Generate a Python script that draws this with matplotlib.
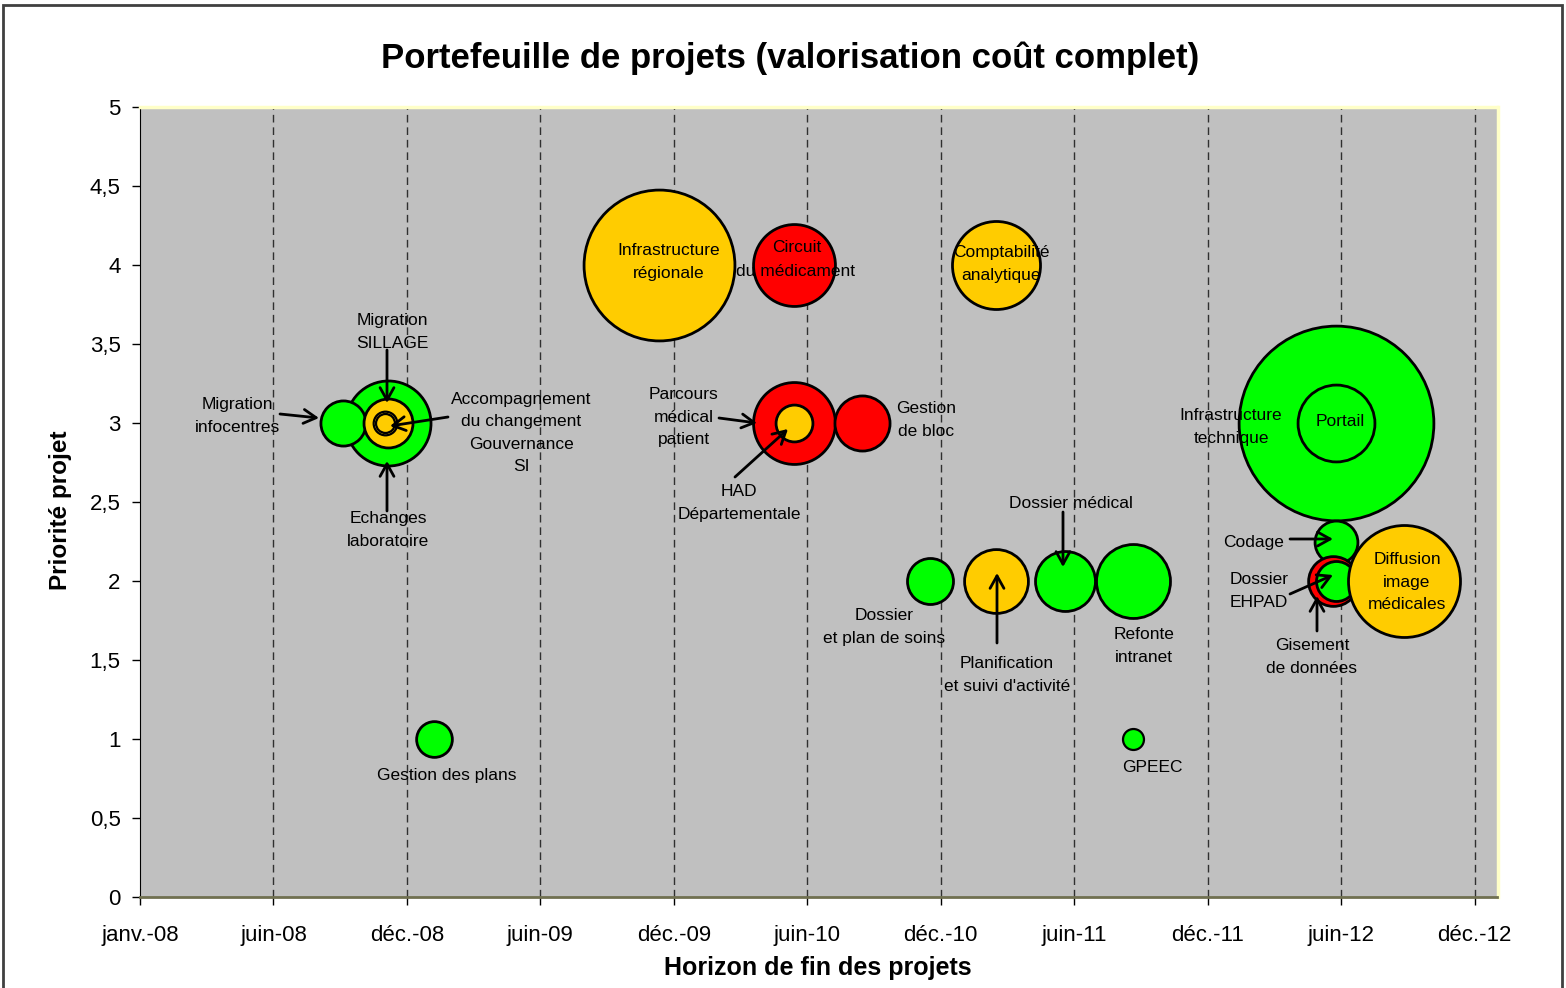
import matplotlib
matplotlib.use("Agg")
import matplotlib.pyplot as plt
import matplotlib.dates as mdates
from matplotlib.patches import Rectangle
from datetime import date, timedelta

plt.rcParams['font.family'] = ['Liberation Sans', 'DejaVu Sans']

# projects, in drawing order
projets = ["Infrastructure technique", "Portail", "Codage", "Dossier EHPAD",
           "Gisement de données", "Diffusion image médicales",
           "Infrastructure régionale", "Circuit du médicament",
           "Comptabilité analytique", "Echanges laboratoire",
           "Migration infocentres", "Migration SILLAGE",
           "Accompagnement du changement", "Gouvernance SI",
           "Parcours médical patient", "HAD Départementale", "Gestion de bloc",
           "Dossier et plan de soins", "Planification et suivi d'activité",
           "Dossier médical", "Refonte intranet", "Gestion des plans", "GPEEC"]
fin = ["2012-06-01", "2012-06-01", "2012-06-01", "2012-05-28",
       "2012-06-01", "2012-09-01",
       "2009-12-01", "2010-06-01",
       "2011-03-01", "2008-12-01",
       "2008-10-01", "2008-12-01",
       "2008-11-27", "2008-11-27",
       "2010-06-01", "2010-06-01", "2010-09-01",
       "2010-12-01", "2011-03-01",
       "2011-06-01", "2011-09-01", "2009-02-01", "2011-09-01"]
priorite = [3, 3, 2.25, 2, 2, 2, 4, 4, 4, 3, 3, 3, 3, 3, 3, 3, 3, 2, 2, 2, 2, 1, 1]
cout = [950, 148, 46, 62, 40, 314, 570, 168, 194, 181, 51, 60, 14, 9,
        168, 34, 76, 53, 102, 90, 137, 32, 11]
statut = ["vert", "vert", "vert", "rouge", "vert", "orange",
          "orange", "rouge", "orange", "vert", "vert", "orange",
          "orange", "orange", "rouge", "orange", "rouge",
          "vert", "orange", "vert", "vert", "vert", "vert"]

couleurs = {"vert": "#00FF00", "orange": "#FFCC00", "rouge": "#FF0000"}
mois = ["janv.", "févr.", "mars", "avr.", "mai", "juin", "juil.", "août",
        "sept.", "oct.", "nov.", "déc."]

W, H = 1566, 988
fig = plt.figure(figsize=(W / 100, H / 100), dpi=100)
ax = fig.add_axes([140 / W, 1 - 897 / H, 1357.5 / W, 790 / H])
ax.set_facecolor("#C0C0C0")

debut = date(2008, 1, 1)
x = [mdates.date2num(date.fromisoformat(d)) for d in fin]
for xi, yi, c, s in zip(x, priorite, cout, statut):
    ax.scatter(xi, yi, s=c * 20.7, color=couleurs[s], edgecolor="black",
               linewidth=2 if c > 20 else 1.6, zorder=3)

# axes
ax.set_xlim(mdates.date2num(debut), mdates.date2num(debut + timedelta(days=1831)))
ax.set_ylim(0, 5)
ticks = [debut + timedelta(days=180 * k) for k in range(11)]
ax.set_xticks([mdates.date2num(t) for t in ticks])
ax.set_xticklabels([mois[t.month - 1] + "-" + t.strftime("%y") for t in ticks])
yt = [k * 0.5 for k in range(11)]
ax.set_yticks(yt)
ax.set_yticklabels([("%g" % v).replace(".", ",") for v in yt])
ax.tick_params(labelsize=16, length=6, width=1, colors="black")
ax.tick_params(axis="x", pad=14)
ax.tick_params(axis="y", pad=8)
for t in ticks[1:]:
    ax.axvline(mdates.date2num(t), color="#303030", lw=1, dashes=(5.5, 3.5), zorder=1)

ax.spines["left"].set_color("black")
ax.spines["bottom"].set_color("#707050")
ax.spines["bottom"].set_linewidth(2)
ax.spines["top"].set_color("#FFFFC8")
ax.spines["right"].set_color("#FFFFC8")
ax.spines["top"].set_linewidth(2.5)
ax.spines["right"].set_linewidth(2.5)

ax.set_xlabel("Horizon de fin des projets", fontsize=18, fontweight="bold")
ax.set_ylabel("Priorité projet", fontsize=17.5, fontweight="bold")
ax.xaxis.set_label_coords((818 - 140) / 1357.5, -(956 - 897) / 790)
ax.yaxis.set_label_coords(-(140 - 72) / 1357.5, (897 - 510) / 790)
fig.text(790 / W, 1 - 58 / H, "Portefeuille de projets (valorisation coût complet)",
         fontsize=25, fontweight="bold", ha="center", va="center")

# bubble labels (pixel positions)
etiquettes = [
    ("Migration\ninfocentres", 237, 416),
    ("Migration\nSILLAGE", 392, 332),
    ("Accompagnement\ndu changement\nGouvernance\nSI", 521, 433),
    ("Echanges\nlaboratoire", 388, 530),
    ("Gestion des plans", 447, 775),
    ("Infrastructure\nrégionale", 669, 262),
    ("Circuit", 797, 248),
    ("du médicament", 796, 272),
    ("Comptabilité\nanalytique", 1001, 264),
    ("Parcours\nmédical\npatient", 684, 417),
    ("HAD\nDépartementale", 739, 503),
    ("Gestion\nde bloc", 926, 420),
    ("Dossier médical", 1071, 503),
    ("Dossier\net plan de soins", 884, 627),
    ("Planification\net suivi d'activité", 1007, 675),
    ("Refonte\nintranet", 1144, 646),
    ("GPEEC", 1152, 767),
    ("Infrastructure\ntechnique", 1231, 427),
    ("Portail", 1340, 421),
    ("Codage", 1254, 542),
    ("Dossier\nEHPAD", 1259, 591),
    ("Gisement\nde données", 1312, 657),
    ("Diffusion\nimage\nmédicales", 1407, 582),
]
for txt, px, py in etiquettes:
    fig.text(px / W, 1 - py / H, txt, fontsize=12.5, ha="center", va="center",
             multialignment="center", linespacing=1.62, zorder=5)

fleches = [
    ((280, 414), (319, 418)),
    ((387, 350), (387, 403)),
    ((448, 417), (390, 426)),
    ((387, 511), (387, 461)),
    ((719, 418), (757, 423)),
    ((735, 477), (788, 429)),
    ((1063, 512), (1063, 567)),
    ((997, 643), (997, 573)),
    ((1290, 539), (1333, 539)),
    ((1290, 594), (1333, 575)),
    ((1317, 631), (1317, 596)),
]
for (x0, y0), (x1, y1) in fleches:
    ax.annotate("", xy=(x1, H - y1), xycoords="figure pixels",
                xytext=(x0, H - y0), textcoords="figure pixels",
                arrowprops=dict(arrowstyle="->,head_length=0.45,head_width=0.25",
                                lw=2, color="black", shrinkA=0, shrinkB=0,
                                mutation_scale=20), zorder=6)

# chart border
fig.patches.append(Rectangle((3 / W, -0.01), 1559 / W, 1.01 - 5 / H,
                             transform=fig.transFigure, fill=False,
                             edgecolor="#404040", lw=2))

fig.savefig("out.png", dpi=100)
